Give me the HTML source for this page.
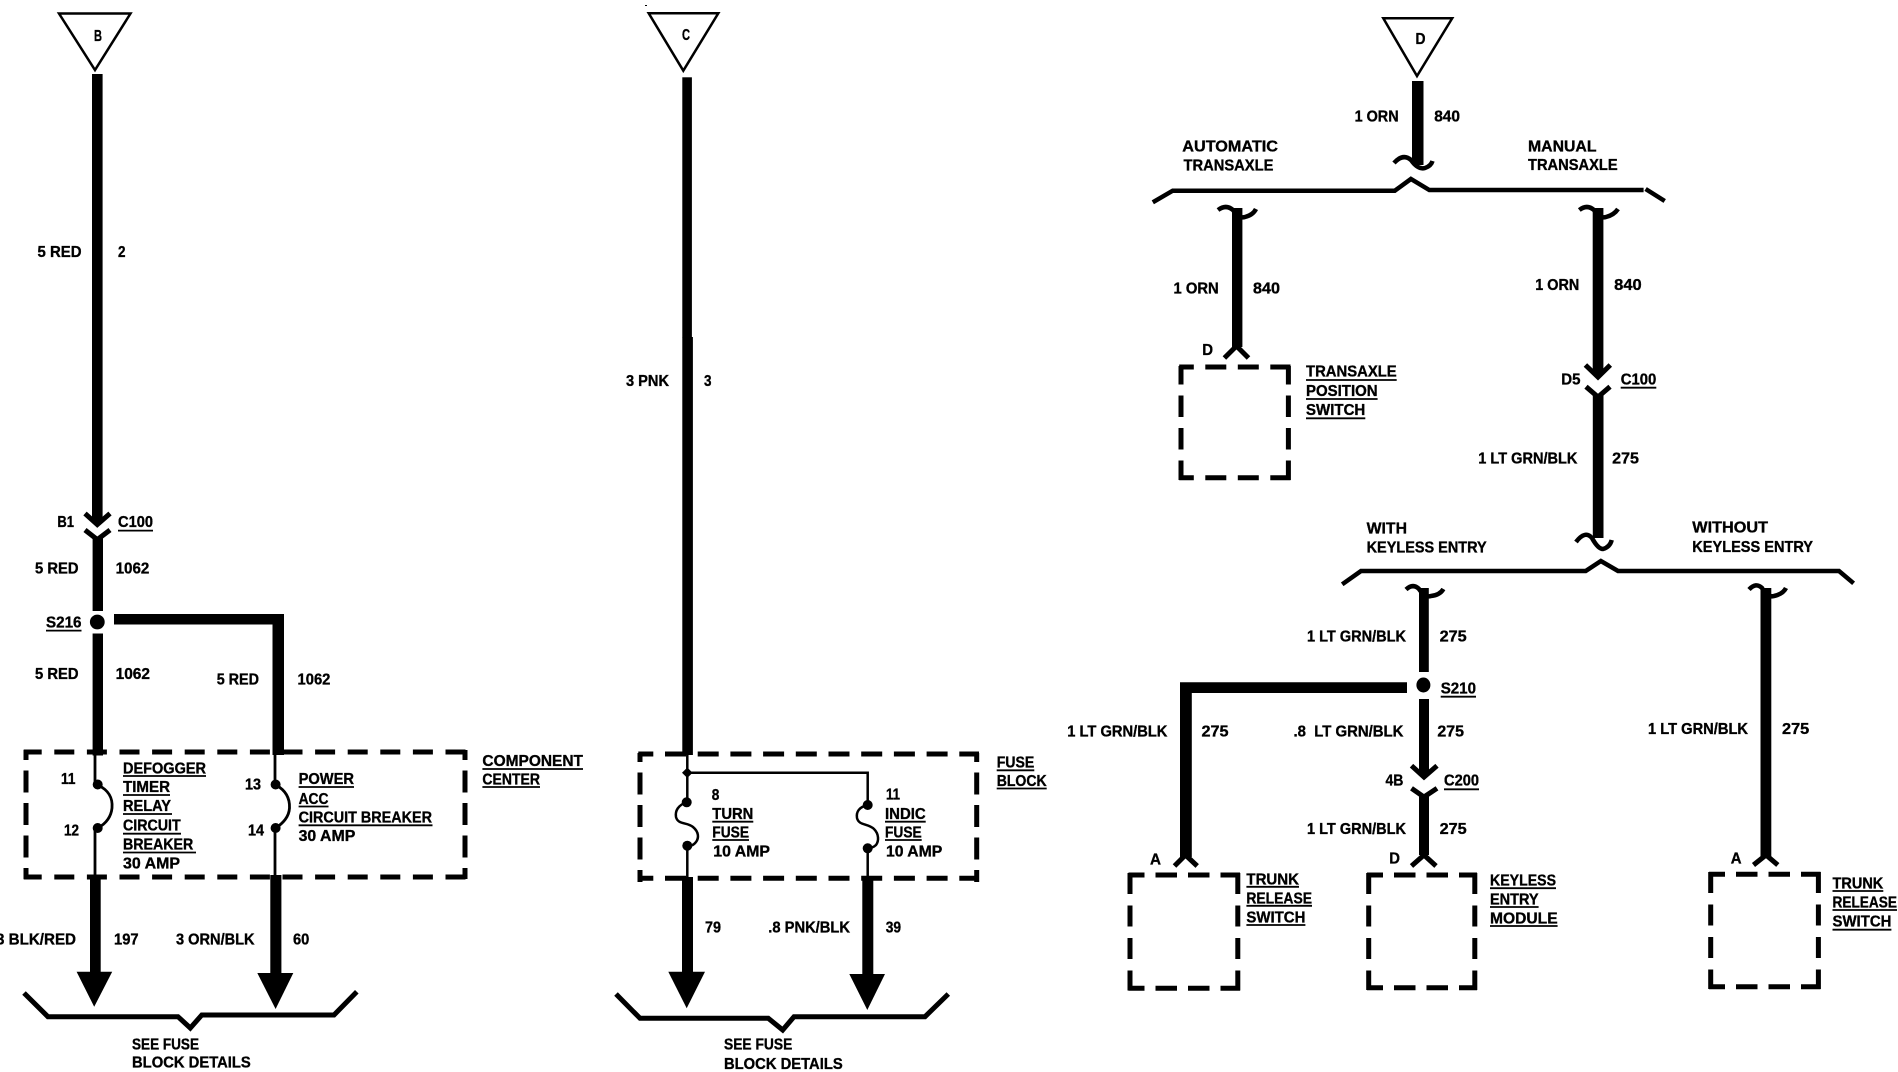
<!DOCTYPE html>
<html><head><meta charset="utf-8"><style>
html,body{margin:0;padding:0;background:#fff;width:1898px;height:1072px;overflow:hidden}
svg{display:block}
text{font-family:"Liberation Sans",sans-serif;font-weight:bold;font-size:16px;fill:#000;stroke:#000;stroke-width:.35}
.w{fill:#000;stroke:none}
.n{fill:none;stroke:#000;stroke-linejoin:miter}
.u{stroke:#000;stroke-width:1.8}
.d{stroke:#000;stroke-width:5;fill:none}
</style></head><body>
<svg xmlns="http://www.w3.org/2000/svg" width="1898" height="1072" viewBox="0 0 1898 1072">
<rect width="1898" height="1072" fill="#fff"/>

<!-- LEFT -->
<polygon points="59,13.5 130.5,13.5 95,70" fill="#fff" stroke="#000" stroke-width="2.5"/>
<text x="94" y="41" textLength="8" lengthAdjust="spacingAndGlyphs">B</text>
<rect class="w" x="92" y="74" width="10.6" height="448"/>
<path class="n" stroke-width="5" d="M85 513.5L97.3 524.5L110 513.5M85 530L97.3 539.6L110 530"/>
<rect class="w" x="92.6" y="537" width="10.4" height="74"/>
<circle cx="97.3" cy="622" r="7.4"/>
<rect class="w" x="92.6" y="633.5" width="10.4" height="122"/>
<path class="w" d="M114 614H284V755H272.5V624.5H114Z"/>
<!-- box 1 -->
<line class="d" x1="23.7" y1="752" x2="467.5" y2="752" stroke-dasharray="20 12.6" stroke-dashoffset="2"/>
<line class="d" x1="23.7" y1="877" x2="467.5" y2="877" stroke-dasharray="20 12.6" stroke-dashoffset="2"/>
<line class="d" x1="26" y1="750" x2="26" y2="879" stroke-dasharray="22 10.5" stroke-dashoffset="12"/>
<line class="d" x1="465" y1="750" x2="465" y2="879" stroke-dasharray="22 10.5" stroke-dashoffset="12"/>
<!-- thin -->
<path class="n" stroke-width="2.8" d="M95 755V785M95 828V877M275 755V785M275 828V877"/>
<path class="n" stroke-width="2.8" d="M98 785C108 790 113 797 112 808C111 818 105 824 98 828"/>
<path class="n" stroke-width="2.8" d="M276 785C285 790 290 797 289.5 808C289 817 283 823 276 828"/>
<circle cx="97.7" cy="784.5" r="5"/><circle cx="97.7" cy="828" r="5"/>
<circle cx="275.6" cy="784.5" r="5"/><circle cx="275.6" cy="828" r="5"/>
<rect class="w" x="90" y="875" width="10.7" height="98"/>
<polygon points="76.6,971.7 112.2,971.7 94.2,1006.7"/>
<rect class="w" x="270.3" y="875" width="11.1" height="100"/>
<polygon points="257.3,973 293.3,973 275.6,1009"/>
<polyline class="n" stroke-width="5" points="24,993 47.9,1016.7 178,1016.7 190.3,1028 201.8,1015 334,1015 356.8,991.7"/>

<text x="37.5" y="257" textLength="44" lengthAdjust="spacingAndGlyphs">5 RED</text>
<text x="118" y="257" textLength="7.5" lengthAdjust="spacingAndGlyphs">2</text>
<text x="57.4" y="527" textLength="16.6" lengthAdjust="spacingAndGlyphs">B1</text>
<text x="118" y="527" textLength="35" lengthAdjust="spacingAndGlyphs">C100</text>
<line class="u" x1="118" y1="530.6" x2="153" y2="530.6"/>
<text x="35" y="573.5" textLength="43.5" lengthAdjust="spacingAndGlyphs">5 RED</text>
<text x="115.6" y="573.5" textLength="33.7" lengthAdjust="spacingAndGlyphs">1062</text>
<text x="46" y="627.7" textLength="35.5" lengthAdjust="spacingAndGlyphs">S216</text>
<line class="u" x1="46" y1="630.6" x2="81.5" y2="630.6"/>
<text x="35" y="679" textLength="43.5" lengthAdjust="spacingAndGlyphs">5 RED</text>
<text x="115.6" y="679" textLength="34.4" lengthAdjust="spacingAndGlyphs">1062</text>
<text x="216.7" y="684.7" textLength="42.3" lengthAdjust="spacingAndGlyphs">5 RED</text>
<text x="297.5" y="684.7" textLength="32.9" lengthAdjust="spacingAndGlyphs">1062</text>
<text x="61" y="784" textLength="14.4" lengthAdjust="spacingAndGlyphs">11</text>
<text x="64" y="835.7" textLength="15" lengthAdjust="spacingAndGlyphs">12</text>
<text x="123" y="773.3" textLength="83" lengthAdjust="spacingAndGlyphs">DEFOGGER</text>
<line class="u" x1="123" y1="776" x2="206" y2="776"/>
<text x="123" y="792" textLength="47" lengthAdjust="spacingAndGlyphs">TIMER</text>
<line class="u" x1="123" y1="795" x2="170" y2="795"/>
<text x="123" y="811" textLength="48" lengthAdjust="spacingAndGlyphs">RELAY</text>
<line class="u" x1="123" y1="814" x2="172" y2="814"/>
<text x="123" y="830.7" textLength="57.7" lengthAdjust="spacingAndGlyphs">CIRCUIT</text>
<line class="u" x1="123" y1="833.7" x2="181" y2="833.7"/>
<text x="123" y="849.7" textLength="70.3" lengthAdjust="spacingAndGlyphs">BREAKER</text>
<line class="u" x1="123" y1="852.5" x2="196" y2="852.5"/>
<text x="123" y="868.7" textLength="57" lengthAdjust="spacingAndGlyphs">30 AMP</text>
<text x="245" y="789.3" textLength="16" lengthAdjust="spacingAndGlyphs">13</text>
<text x="248" y="835.7" textLength="16" lengthAdjust="spacingAndGlyphs">14</text>
<text x="298.6" y="784" textLength="55.4" lengthAdjust="spacingAndGlyphs">POWER</text>
<line class="u" x1="298.6" y1="787" x2="354" y2="787"/>
<text x="298.6" y="804" textLength="29.9" lengthAdjust="spacingAndGlyphs">ACC</text>
<line class="u" x1="298.6" y1="806.5" x2="328.5" y2="806.5"/>
<text x="298.6" y="822.3" textLength="133.4" lengthAdjust="spacingAndGlyphs">CIRCUIT BREAKER</text>
<line class="u" x1="298.6" y1="825.3" x2="432.5" y2="825.3"/>
<text x="298.6" y="841" textLength="56.7" lengthAdjust="spacingAndGlyphs">30 AMP</text>
<text x="482.4" y="766" textLength="100.6" lengthAdjust="spacingAndGlyphs">COMPONENT</text>
<line class="u" x1="482.4" y1="769" x2="583" y2="769"/>
<text x="482.4" y="784.3" textLength="57.6" lengthAdjust="spacingAndGlyphs">CENTER</text>
<line class="u" x1="482.4" y1="787" x2="540" y2="787"/>
<text x="-4" y="944.3" textLength="80" lengthAdjust="spacingAndGlyphs">3 BLK/RED</text>
<text x="114" y="944.3" textLength="24.6" lengthAdjust="spacingAndGlyphs">197</text>
<text x="176" y="944.3" textLength="78.6" lengthAdjust="spacingAndGlyphs">3 ORN/BLK</text>
<text x="293" y="944.3" textLength="16.3" lengthAdjust="spacingAndGlyphs">60</text>
<text x="132" y="1049.3" textLength="67" lengthAdjust="spacingAndGlyphs">SEE FUSE</text>
<text x="132" y="1067.7" textLength="118.8" lengthAdjust="spacingAndGlyphs">BLOCK DETAILS</text>

<!-- MIDDLE -->
<rect class="w" x="645" y="5" width="2" height="1"/>
<polygon points="648.7,13.3 718.3,13.3 683.3,70.7" fill="#fff" stroke="#000" stroke-width="2.5"/>
<text x="682" y="40" textLength="8" lengthAdjust="spacingAndGlyphs">C</text>
<rect class="w" x="682.3" y="77.3" width="9.6" height="260"/>
<rect class="w" x="682.3" y="337" width="10.6" height="418"/>
<line class="d" x1="638.3" y1="754" x2="979" y2="754" stroke-dasharray="21 11.7" stroke-dashoffset="6"/>
<line class="d" x1="638.3" y1="878.3" x2="979" y2="878.3" stroke-dasharray="21 11.7" stroke-dashoffset="6"/>
<line class="d" x1="640" y1="753" x2="640" y2="882" stroke-dasharray="22 10.5" stroke-dashoffset="13"/>
<line class="d" x1="976.7" y1="753" x2="976.7" y2="882" stroke-dasharray="22 10.5" stroke-dashoffset="13"/>
<path class="n" stroke-width="2.5" d="M687.3 755V802M687.3 846V878M687.3 772.7H867.7V805M867.7 848V878"/>
<polygon points="687.3,767.5 692.5,772.7 687.3,778 682,772.7"/>
<path class="n" stroke-width="2.5" d="M687 802C678 805 675 811 676 817C678 825 687 822 693 827C699 832 699 838 696 842C693 846 690 846 687 846"/>
<path class="n" stroke-width="2.5" d="M867.7 805C859 807 856 812 857 818C859 826 868 823 874 829C879 834 879 841 876 845C873 848 870 848 867.7 848"/>
<circle cx="686.7" cy="802.3" r="5"/><circle cx="687.3" cy="845.7" r="5"/>
<circle cx="867.7" cy="805" r="5"/><circle cx="867.7" cy="848.3" r="5"/>
<rect class="w" x="682" y="877" width="11" height="96"/>
<polygon points="668.3,971.7 705,971.7 686.7,1008.3"/>
<rect class="w" x="862.3" y="877" width="11" height="98"/>
<polygon points="849.3,974 885,974 867.3,1010"/>
<polyline class="n" stroke-width="5" points="616,994 640,1018.3 768.3,1018.3 782.7,1030 794,1016.7 925,1016.7 948.3,994"/>

<text x="626" y="386" textLength="43" lengthAdjust="spacingAndGlyphs">3 PNK</text>
<text x="704" y="386" textLength="7.5" lengthAdjust="spacingAndGlyphs">3</text>
<text x="711.7" y="800" textLength="7.6" lengthAdjust="spacingAndGlyphs">8</text>
<text x="712.3" y="819" textLength="41" lengthAdjust="spacingAndGlyphs">TURN</text>
<line class="u" x1="712.3" y1="821.7" x2="753.3" y2="821.7"/>
<text x="712.3" y="837.7" textLength="36.7" lengthAdjust="spacingAndGlyphs">FUSE</text>
<line class="u" x1="712.3" y1="840" x2="749" y2="840"/>
<text x="713.3" y="856.7" textLength="56.7" lengthAdjust="spacingAndGlyphs">10 AMP</text>
<text x="886" y="799.3" textLength="14" lengthAdjust="spacingAndGlyphs">11</text>
<text x="885" y="819" textLength="40.7" lengthAdjust="spacingAndGlyphs">INDIC</text>
<line class="u" x1="885" y1="821.7" x2="925.7" y2="821.7"/>
<text x="885" y="837.7" textLength="36.7" lengthAdjust="spacingAndGlyphs">FUSE</text>
<line class="u" x1="885" y1="840" x2="921.7" y2="840"/>
<text x="886" y="856.7" textLength="56.3" lengthAdjust="spacingAndGlyphs">10 AMP</text>
<text x="996.7" y="767.7" textLength="37.6" lengthAdjust="spacingAndGlyphs">FUSE</text>
<line class="u" x1="996.7" y1="770.3" x2="1034.3" y2="770.3"/>
<text x="996.7" y="786" textLength="50" lengthAdjust="spacingAndGlyphs">BLOCK</text>
<line class="u" x1="996.7" y1="788.5" x2="1046.7" y2="788.5"/>
<text x="705" y="932.7" textLength="16" lengthAdjust="spacingAndGlyphs">79</text>
<text x="768.3" y="932.7" textLength="81.7" lengthAdjust="spacingAndGlyphs">.8 PNK/BLK</text>
<text x="885.7" y="932.7" textLength="15.3" lengthAdjust="spacingAndGlyphs">39</text>
<text x="724" y="1049.3" textLength="68.3" lengthAdjust="spacingAndGlyphs">SEE FUSE</text>
<text x="724" y="1069" textLength="118.7" lengthAdjust="spacingAndGlyphs">BLOCK DETAILS</text>

<!-- RIGHT -->
<polygon points="1383.3,18.3 1452.2,18.3 1417,76" fill="#fff" stroke="#000" stroke-width="2.5"/>
<text x="1415.5" y="44" textLength="10" lengthAdjust="spacingAndGlyphs">D</text>
<rect class="w" x="1412" y="81" width="11.5" height="84"/>
<path class="n" stroke-width="4.5" d="M1394 163Q1403 153 1411 160Q1418 170 1425 168Q1431 166 1432.5 161"/>
<polyline class="n" stroke-width="4.5" points="1152.8,202.3 1172.7,190.7 1394.8,190.7 1410.9,179 1429.3,190 1643.6,190"/>
<line class="n" stroke-width="4.5" x1="1645.6" y1="189" x2="1664.7" y2="201"/>

<path class="n" stroke-width="4.5" d="M1218 210Q1226 204 1233 210Q1239 219 1245 217Q1253 215 1256 209"/>
<rect class="w" x="1232" y="208" width="10.4" height="139"/>
<path class="n" stroke-width="5" d="M1224.4 358L1236.5 346L1248.5 358"/>
<line class="d" x1="1179.2" y1="367" x2="1290.5" y2="367" stroke-dasharray="21 11.5" stroke-dashoffset="6.4"/>
<line class="d" x1="1179.2" y1="477.7" x2="1290.5" y2="477.7" stroke-dasharray="21 11.5" stroke-dashoffset="6.4"/>
<line class="d" x1="1181" y1="366" x2="1181" y2="480" stroke-dasharray="21.5 11" stroke-dashoffset="3"/>
<line class="d" x1="1288.4" y1="366" x2="1288.4" y2="480" stroke-dasharray="21.5 11" stroke-dashoffset="3"/>

<path class="n" stroke-width="4.5" d="M1579.3 210Q1587 204 1594 210Q1600 219 1606 217Q1614 215 1618 209"/>
<rect class="w" x="1592.7" y="208" width="10.7" height="166"/>
<path class="n" stroke-width="5" d="M1585.4 365L1598 377L1610.3 365M1586 386.7L1598 397L1610 386.7"/>
<rect class="w" x="1592.8" y="395" width="10.7" height="143"/>
<path class="n" stroke-width="4.5" d="M1576 542Q1585 530 1592 538Q1598 549 1603 549Q1610 547 1611.7 540"/>
<polyline class="n" stroke-width="4.5" points="1342.2,584.3 1361,571 1585.7,571 1600.9,561 1618,571 1839,571 1853.6,583.3"/>

<path class="n" stroke-width="4.5" d="M1406 589.5Q1413 583 1419 589Q1425 598 1431 596Q1440 595 1443.4 589"/>
<rect class="w" x="1419" y="588" width="9.8" height="84"/>
<ellipse cx="1423.4" cy="685" rx="7" ry="7.5"/>
<rect class="w" x="1419" y="699" width="10" height="75"/>
<path class="n" stroke-width="5" d="M1411.5 765.7L1424 777L1437 765.7M1411.5 788.3L1424 797L1437 788.3"/>
<rect class="w" x="1419" y="795" width="10" height="60"/>
<path class="n" stroke-width="5" d="M1411.5 866L1424 855L1436 866"/>
<path class="w" d="M1180 682.3H1407V693H1191.8V857H1180Z"/>
<path class="n" stroke-width="5" d="M1174.5 866L1185.5 855L1197.2 866"/>
<path class="n" stroke-width="4.5" d="M1749 589.5Q1756 582 1762 588Q1767 598 1774 596Q1783 594 1786 588"/>
<rect class="w" x="1760.5" y="588" width="10.8" height="269"/>
<path class="n" stroke-width="5" d="M1753.5 865L1766 855L1777.8 865"/>

<line class="d" x1="1128.5" y1="875" x2="1240" y2="875" stroke-dasharray="21.5 11" stroke-dashoffset="5.5"/>
<line class="d" x1="1128.5" y1="988.3" x2="1240" y2="988.3" stroke-dasharray="21.5 11" stroke-dashoffset="5.5"/>
<line class="d" x1="1130" y1="873" x2="1130" y2="990.5" stroke-dasharray="21 11.5"/>
<line class="d" x1="1237.8" y1="873" x2="1237.8" y2="990.5" stroke-dasharray="21 11.5"/>
<line class="d" x1="1367" y1="875" x2="1477" y2="875" stroke-dasharray="21.5 11" stroke-dashoffset="5.5"/>
<line class="d" x1="1367" y1="987.7" x2="1477" y2="987.7" stroke-dasharray="21.5 11" stroke-dashoffset="5.5"/>
<line class="d" x1="1368.7" y1="873" x2="1368.7" y2="990" stroke-dasharray="21 11.5"/>
<line class="d" x1="1474.8" y1="873" x2="1474.8" y2="990" stroke-dasharray="21 11.5"/>
<line class="d" x1="1709" y1="874.3" x2="1820.5" y2="874.3" stroke-dasharray="21.5 11" stroke-dashoffset="5.5"/>
<line class="d" x1="1709" y1="986.7" x2="1820.5" y2="986.7" stroke-dasharray="21.5 11" stroke-dashoffset="5.5"/>
<line class="d" x1="1710.7" y1="872" x2="1710.7" y2="989" stroke-dasharray="21 11.5"/>
<line class="d" x1="1818.4" y1="872" x2="1818.4" y2="989" stroke-dasharray="21 11.5"/>

<text x="1354.6" y="121.7" textLength="44" lengthAdjust="spacingAndGlyphs">1 ORN</text>
<text x="1434.2" y="121.7" textLength="25.8" lengthAdjust="spacingAndGlyphs">840</text>
<text x="1182.3" y="151.7" textLength="95.7" lengthAdjust="spacingAndGlyphs">AUTOMATIC</text>
<text x="1183.5" y="170.7" textLength="89.9" lengthAdjust="spacingAndGlyphs">TRANSAXLE</text>
<text x="1528" y="151.7" textLength="68.5" lengthAdjust="spacingAndGlyphs">MANUAL</text>
<text x="1528" y="170" textLength="89.6" lengthAdjust="spacingAndGlyphs">TRANSAXLE</text>
<text x="1173.5" y="293.3" textLength="45.2" lengthAdjust="spacingAndGlyphs">1 ORN</text>
<text x="1253" y="293.3" textLength="27" lengthAdjust="spacingAndGlyphs">840</text>
<text x="1535.3" y="290" textLength="44" lengthAdjust="spacingAndGlyphs">1 ORN</text>
<text x="1614.2" y="290" textLength="27.5" lengthAdjust="spacingAndGlyphs">840</text>
<text x="1202.2" y="355" textLength="10.8" lengthAdjust="spacingAndGlyphs">D</text>
<text x="1561.3" y="384.3" textLength="19.2" lengthAdjust="spacingAndGlyphs">D5</text>
<text x="1620.7" y="384.3" textLength="35.6" lengthAdjust="spacingAndGlyphs">C100</text>
<line class="u" x1="1620.7" y1="387.7" x2="1656.3" y2="387.7"/>
<text x="1306" y="376.7" textLength="90.7" lengthAdjust="spacingAndGlyphs">TRANSAXLE</text>
<line class="u" x1="1306" y1="380" x2="1396.7" y2="380"/>
<text x="1306" y="396" textLength="71.6" lengthAdjust="spacingAndGlyphs">POSITION</text>
<line class="u" x1="1306" y1="399" x2="1377.6" y2="399"/>
<text x="1306" y="415" textLength="59.3" lengthAdjust="spacingAndGlyphs">SWITCH</text>
<line class="u" x1="1306" y1="418.3" x2="1365.3" y2="418.3"/>
<text x="1478.3" y="463.3" textLength="99.1" lengthAdjust="spacingAndGlyphs">1 LT GRN/BLK</text>
<text x="1612.2" y="463.3" textLength="26.8" lengthAdjust="spacingAndGlyphs">275</text>
<text x="1366.6" y="533.3" textLength="40.4" lengthAdjust="spacingAndGlyphs">WITH</text>
<text x="1366.6" y="552.7" textLength="120.1" lengthAdjust="spacingAndGlyphs">KEYLESS ENTRY</text>
<text x="1692.3" y="532.7" textLength="75.7" lengthAdjust="spacingAndGlyphs">WITHOUT</text>
<text x="1692.3" y="552" textLength="120.7" lengthAdjust="spacingAndGlyphs">KEYLESS ENTRY</text>
<text x="1307" y="641.7" textLength="99" lengthAdjust="spacingAndGlyphs">1 LT GRN/BLK</text>
<text x="1439.6" y="641.7" textLength="27.1" lengthAdjust="spacingAndGlyphs">275</text>
<text x="1440.7" y="693.3" textLength="35.3" lengthAdjust="spacingAndGlyphs">S210</text>
<line class="u" x1="1440.7" y1="696.7" x2="1476" y2="696.7"/>
<text x="1067.3" y="736.7" textLength="100.1" lengthAdjust="spacingAndGlyphs">1 LT GRN/BLK</text>
<text x="1201.5" y="736.7" textLength="27.1" lengthAdjust="spacingAndGlyphs">275</text>
<text x="1293.5" y="736.7" textLength="109.9" lengthAdjust="spacingAndGlyphs" xml:space="preserve">.8  LT GRN/BLK</text>
<text x="1437.4" y="736.7" textLength="26.6" lengthAdjust="spacingAndGlyphs">275</text>
<text x="1648" y="734" textLength="100" lengthAdjust="spacingAndGlyphs">1 LT GRN/BLK</text>
<text x="1782" y="734" textLength="27.2" lengthAdjust="spacingAndGlyphs">275</text>
<text x="1385.5" y="785.7" textLength="17.9" lengthAdjust="spacingAndGlyphs">4B</text>
<text x="1444" y="785.7" textLength="35" lengthAdjust="spacingAndGlyphs">C200</text>
<line class="u" x1="1444" y1="789.3" x2="1479" y2="789.3"/>
<text x="1307" y="834" textLength="99" lengthAdjust="spacingAndGlyphs">1 LT GRN/BLK</text>
<text x="1439.6" y="834" textLength="27.1" lengthAdjust="spacingAndGlyphs">275</text>
<text x="1150" y="864.3" textLength="11" lengthAdjust="spacingAndGlyphs">A</text>
<text x="1389.3" y="863.3" textLength="10.7" lengthAdjust="spacingAndGlyphs">D</text>
<text x="1730.7" y="863.3" textLength="10.8" lengthAdjust="spacingAndGlyphs">A</text>
<text x="1246.4" y="884.3" textLength="52.6" lengthAdjust="spacingAndGlyphs">TRUNK</text>
<line class="u" x1="1246.4" y1="886.8" x2="1299" y2="886.8"/>
<text x="1246.4" y="903.3" textLength="65.6" lengthAdjust="spacingAndGlyphs">RELEASE</text>
<line class="u" x1="1246.4" y1="905.8" x2="1312" y2="905.8"/>
<text x="1246.4" y="922.3" textLength="59" lengthAdjust="spacingAndGlyphs">SWITCH</text>
<line class="u" x1="1246.4" y1="925" x2="1305.4" y2="925"/>
<text x="1490" y="885.7" textLength="66" lengthAdjust="spacingAndGlyphs">KEYLESS</text>
<line class="u" x1="1490" y1="888.2" x2="1556" y2="888.2"/>
<text x="1490" y="904.3" textLength="48.6" lengthAdjust="spacingAndGlyphs">ENTRY</text>
<line class="u" x1="1490" y1="907" x2="1538.6" y2="907"/>
<text x="1490" y="923.3" textLength="67.6" lengthAdjust="spacingAndGlyphs">MODULE</text>
<line class="u" x1="1490" y1="926" x2="1557.6" y2="926"/>
<text x="1832.5" y="888.3" textLength="50.8" lengthAdjust="spacingAndGlyphs">TRUNK</text>
<line class="u" x1="1832.5" y1="891" x2="1883.3" y2="891"/>
<text x="1832.5" y="907.3" textLength="64.5" lengthAdjust="spacingAndGlyphs">RELEASE</text>
<line class="u" x1="1832.5" y1="910" x2="1897" y2="910"/>
<text x="1832.5" y="926.7" textLength="58.9" lengthAdjust="spacingAndGlyphs">SWITCH</text>
<line class="u" x1="1832.5" y1="929.7" x2="1891.4" y2="929.7"/>
</svg>
</body></html>
